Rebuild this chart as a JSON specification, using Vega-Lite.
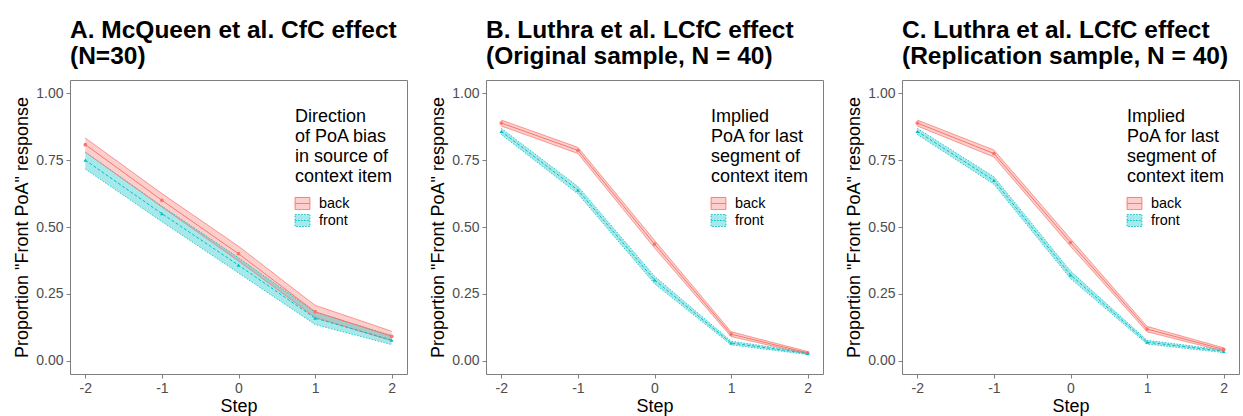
{
  "$schema": "https://vega.github.io/schema/vega-lite/v6.json",
  "padding": {"left": 13, "top": 17, "right": 0, "bottom": 0},
  "spacing": 79,
  "bounds": "flush",
  "resolve": {"scale": {"color": "independent"}, "legend": {"color": "independent"}},
  "config": {
    "font": "Liberation Sans",
    "view": {"stroke": "#7f7f7f", "strokeWidth": 1},
    "axis": {"grid": false, "domain": false, "tickColor": "#7f7f7f", "tickSize": 4, "labelColor": "#4d4d4d", "labelFontSize": 14, "titleFontSize": 18, "titleFontWeight": "normal", "titleColor": "#000000", "labelPadding": 3},
    "title": {"anchor": "start", "frame": "group", "fontSize": 24.5, "fontWeight": "bold", "lineHeight": 26, "offset": 11, "color": "#000000"}
  },
  "datasets": {
    "A": [
      {"step": -2, "series": "back", "mean": 0.808, "lo": 0.780, "hi": 0.833},
      {"step": -1, "series": "back", "mean": 0.600, "lo": 0.575, "hi": 0.625},
      {"step": 0, "series": "back", "mean": 0.400, "lo": 0.373, "hi": 0.428},
      {"step": 1, "series": "back", "mean": 0.183, "lo": 0.162, "hi": 0.207},
      {"step": 2, "series": "back", "mean": 0.091, "lo": 0.074, "hi": 0.110},
      {"step": -2, "series": "front", "mean": 0.750, "lo": 0.717, "hi": 0.780},
      {"step": -1, "series": "front", "mean": 0.550, "lo": 0.520, "hi": 0.578},
      {"step": 0, "series": "front", "mean": 0.357, "lo": 0.328, "hi": 0.385},
      {"step": 1, "series": "front", "mean": 0.159, "lo": 0.135, "hi": 0.182},
      {"step": 2, "series": "front", "mean": 0.077, "lo": 0.060, "hi": 0.094}
    ],
    "B": [
      {"step": -2, "series": "back", "mean": 0.889, "lo": 0.878, "hi": 0.900},
      {"step": -1, "series": "back", "mean": 0.787, "lo": 0.775, "hi": 0.798},
      {"step": 0, "series": "back", "mean": 0.436, "lo": 0.422, "hi": 0.450},
      {"step": 1, "series": "back", "mean": 0.099, "lo": 0.090, "hi": 0.108},
      {"step": 2, "series": "back", "mean": 0.029, "lo": 0.025, "hi": 0.034},
      {"step": -2, "series": "front", "mean": 0.858, "lo": 0.846, "hi": 0.869},
      {"step": -1, "series": "front", "mean": 0.638, "lo": 0.624, "hi": 0.652},
      {"step": 0, "series": "front", "mean": 0.302, "lo": 0.288, "hi": 0.316},
      {"step": 1, "series": "front", "mean": 0.066, "lo": 0.059, "hi": 0.073},
      {"step": 2, "series": "front", "mean": 0.027, "lo": 0.023, "hi": 0.031}
    ],
    "C": [
      {"step": -2, "series": "back", "mean": 0.889, "lo": 0.878, "hi": 0.900},
      {"step": -1, "series": "back", "mean": 0.775, "lo": 0.762, "hi": 0.788},
      {"step": 0, "series": "back", "mean": 0.442, "lo": 0.428, "hi": 0.456},
      {"step": 1, "series": "back", "mean": 0.118, "lo": 0.108, "hi": 0.128},
      {"step": 2, "series": "back", "mean": 0.042, "lo": 0.036, "hi": 0.048},
      {"step": -2, "series": "front", "mean": 0.858, "lo": 0.846, "hi": 0.869},
      {"step": -1, "series": "front", "mean": 0.674, "lo": 0.660, "hi": 0.688},
      {"step": 0, "series": "front", "mean": 0.321, "lo": 0.307, "hi": 0.335},
      {"step": 1, "series": "front", "mean": 0.069, "lo": 0.062, "hi": 0.076},
      {"step": 2, "series": "front", "mean": 0.035, "lo": 0.030, "hi": 0.040}
    ]
  },
  "hconcat": [
    {
      "width": 337, "height": 294,
      "title": {"text": ["A. McQueen et al. CfC effect", "(N=30)"]},
      "data": {"name": "A"},
      "encoding": {"x": {"field": "step", "type": "quantitative", "scale": {"domain": [-2.2, 2.2], "nice": false, "zero": false}, "axis": {"values": [-2, -1, 0, 1, 2], "labelExpr": "'' + datum.value", "title": "Step", "titlePadding": 2}}},
      "layer": [
        {"mark": {"type": "area", "fillOpacity": 0.35}, "encoding": {
          "y": {"field": "lo", "type": "quantitative", "scale": {"domain": [-0.05, 1.05], "nice": false, "zero": false}, "axis": {"values": [0, 0.25, 0.5, 0.75, 1], "format": ".2f", "title": "Proportion \"Front PoA\" response", "titlePadding": 4}},
          "y2": {"field": "hi"},
          "color": {"field": "series", "type": "nominal", "scale": {"domain": ["back", "front"], "range": ["#F8766D", "#00BFC4"]},
            "legend": {"orient": "none", "legendX": 225, "legendY": 28, "title": ["Direction", "of PoA bias", "in source of", "context item"], "titleFontSize": 18, "titleFontWeight": "normal", "titleLineHeight": 20, "titleColor": "#000000", "labelFontSize": 14.4, "labelColor": "#000000", "symbolType": "M-1.1,-0.9H1.1V0.9H-1.1Z M-1.1,0H1.1", "symbolSize": 180, "rowPadding": 0, "labelOffset": 9, "titlePadding": 10,
              "encode": {"symbols": {"update": {"fill": {"signal": "datum.value === 'back' ? '#F8766D' : '#00BFC4'"}, "fillOpacity": {"value": 0.35}, "stroke": {"signal": "datum.value === 'back' ? '#F8766D' : '#00BFC4'"}, "strokeWidth": {"value": 1}, "strokeDash": {"signal": "datum.value === 'back' ? [1,0] : [1.5,1.5]"}, "opacity": {"value": 1}}}}}}
        }},
        {"mark": {"type": "line", "strokeWidth": 0.8}, "encoding": {
          "y": {"field": "hi", "type": "quantitative", "title": "Proportion \"Front PoA\" response"},
          "color": {"field": "series", "type": "nominal", "legend": null},
          "strokeDash": {"field": "series", "type": "nominal", "scale": {"domain": ["back", "front"], "range": [[1, 0], [1.5, 1.5]]}, "legend": null}
        }},
        {"mark": {"type": "line", "strokeWidth": 0.8}, "encoding": {
          "y": {"field": "lo", "type": "quantitative", "title": "Proportion \"Front PoA\" response"},
          "color": {"field": "series", "type": "nominal", "legend": null},
          "strokeDash": {"field": "series", "type": "nominal", "legend": null}
        }},
        {"transform": [{"filter": "datum.series === 'back'"}], "mark": {"type": "line", "strokeWidth": 1, "color": "#F8766D"}, "encoding": {
          "y": {"field": "mean", "type": "quantitative", "title": "Proportion \"Front PoA\" response"}
        }},
        {"transform": [{"filter": "datum.series === 'front'"}], "mark": {"type": "line", "strokeWidth": 1, "color": "#00BFC4", "strokeDash": [3, 2]}, "encoding": {
          "y": {"field": "mean", "type": "quantitative", "title": "Proportion \"Front PoA\" response"}
        }},
        {"mark": {"type": "point", "filled": true, "size": 14, "opacity": 1}, "encoding": {
          "y": {"field": "mean", "type": "quantitative", "title": "Proportion \"Front PoA\" response"},
          "color": {"field": "series", "type": "nominal", "legend": null},
          "shape": {"field": "series", "type": "nominal", "scale": {"domain": ["back", "front"], "range": ["circle", "triangle-up"]}, "legend": null}
        }}
      ]
    },
    {
      "width": 337, "height": 294,
      "title": {"text": ["B. Luthra et al. LCfC effect", "(Original sample, N = 40)"]},
      "data": {"name": "B"},
      "encoding": {"x": {"field": "step", "type": "quantitative", "scale": {"domain": [-2.2, 2.2], "nice": false, "zero": false}, "axis": {"values": [-2, -1, 0, 1, 2], "labelExpr": "'' + datum.value", "title": "Step", "titlePadding": 2}}},
      "layer": [
        {"mark": {"type": "area", "fillOpacity": 0.35}, "encoding": {
          "y": {"field": "lo", "type": "quantitative", "scale": {"domain": [-0.05, 1.05], "nice": false, "zero": false}, "axis": {"values": [0, 0.25, 0.5, 0.75, 1], "format": ".2f", "title": "Proportion \"Front PoA\" response", "titlePadding": 4}},
          "y2": {"field": "hi"},
          "color": {"field": "series", "type": "nominal", "scale": {"domain": ["back", "front"], "range": ["#F8766D", "#00BFC4"]},
            "legend": {"orient": "none", "legendX": 225, "legendY": 28, "title": ["Implied", "PoA for last", "segment of", "context item"], "titleFontSize": 18, "titleFontWeight": "normal", "titleLineHeight": 20, "titleColor": "#000000", "labelFontSize": 14.4, "labelColor": "#000000", "symbolType": "M-1.1,-0.9H1.1V0.9H-1.1Z M-1.1,0H1.1", "symbolSize": 180, "rowPadding": 0, "labelOffset": 9, "titlePadding": 10,
              "encode": {"symbols": {"update": {"fill": {"signal": "datum.value === 'back' ? '#F8766D' : '#00BFC4'"}, "fillOpacity": {"value": 0.35}, "stroke": {"signal": "datum.value === 'back' ? '#F8766D' : '#00BFC4'"}, "strokeWidth": {"value": 1}, "strokeDash": {"signal": "datum.value === 'back' ? [1,0] : [1.5,1.5]"}, "opacity": {"value": 1}}}}}}
        }},
        {"mark": {"type": "line", "strokeWidth": 0.8}, "encoding": {
          "y": {"field": "hi", "type": "quantitative", "title": "Proportion \"Front PoA\" response"},
          "color": {"field": "series", "type": "nominal", "legend": null},
          "strokeDash": {"field": "series", "type": "nominal", "scale": {"domain": ["back", "front"], "range": [[1, 0], [1.5, 1.5]]}, "legend": null}
        }},
        {"mark": {"type": "line", "strokeWidth": 0.8}, "encoding": {
          "y": {"field": "lo", "type": "quantitative", "title": "Proportion \"Front PoA\" response"},
          "color": {"field": "series", "type": "nominal", "legend": null},
          "strokeDash": {"field": "series", "type": "nominal", "legend": null}
        }},
        {"transform": [{"filter": "datum.series === 'back'"}], "mark": {"type": "line", "strokeWidth": 1, "color": "#F8766D"}, "encoding": {
          "y": {"field": "mean", "type": "quantitative", "title": "Proportion \"Front PoA\" response"}
        }},
        {"transform": [{"filter": "datum.series === 'front'"}], "mark": {"type": "line", "strokeWidth": 1, "color": "#00BFC4", "strokeDash": [3, 2]}, "encoding": {
          "y": {"field": "mean", "type": "quantitative", "title": "Proportion \"Front PoA\" response"}
        }},
        {"mark": {"type": "point", "filled": true, "size": 14, "opacity": 1}, "encoding": {
          "y": {"field": "mean", "type": "quantitative", "title": "Proportion \"Front PoA\" response"},
          "color": {"field": "series", "type": "nominal", "legend": null},
          "shape": {"field": "series", "type": "nominal", "scale": {"domain": ["back", "front"], "range": ["circle", "triangle-up"]}, "legend": null}
        }}
      ]
    },
    {
      "width": 337, "height": 294,
      "title": {"text": ["C. Luthra et al. LCfC effect", "(Replication sample, N = 40)"]},
      "data": {"name": "C"},
      "encoding": {"x": {"field": "step", "type": "quantitative", "scale": {"domain": [-2.2, 2.2], "nice": false, "zero": false}, "axis": {"values": [-2, -1, 0, 1, 2], "labelExpr": "'' + datum.value", "title": "Step", "titlePadding": 2}}},
      "layer": [
        {"mark": {"type": "area", "fillOpacity": 0.35}, "encoding": {
          "y": {"field": "lo", "type": "quantitative", "scale": {"domain": [-0.05, 1.05], "nice": false, "zero": false}, "axis": {"values": [0, 0.25, 0.5, 0.75, 1], "format": ".2f", "title": "Proportion \"Front PoA\" response", "titlePadding": 4}},
          "y2": {"field": "hi"},
          "color": {"field": "series", "type": "nominal", "scale": {"domain": ["back", "front"], "range": ["#F8766D", "#00BFC4"]},
            "legend": {"orient": "none", "legendX": 225, "legendY": 28, "title": ["Implied", "PoA for last", "segment of", "context item"], "titleFontSize": 18, "titleFontWeight": "normal", "titleLineHeight": 20, "titleColor": "#000000", "labelFontSize": 14.4, "labelColor": "#000000", "symbolType": "M-1.1,-0.9H1.1V0.9H-1.1Z M-1.1,0H1.1", "symbolSize": 180, "rowPadding": 0, "labelOffset": 9, "titlePadding": 10,
              "encode": {"symbols": {"update": {"fill": {"signal": "datum.value === 'back' ? '#F8766D' : '#00BFC4'"}, "fillOpacity": {"value": 0.35}, "stroke": {"signal": "datum.value === 'back' ? '#F8766D' : '#00BFC4'"}, "strokeWidth": {"value": 1}, "strokeDash": {"signal": "datum.value === 'back' ? [1,0] : [1.5,1.5]"}, "opacity": {"value": 1}}}}}}
        }},
        {"mark": {"type": "line", "strokeWidth": 0.8}, "encoding": {
          "y": {"field": "hi", "type": "quantitative", "title": "Proportion \"Front PoA\" response"},
          "color": {"field": "series", "type": "nominal", "legend": null},
          "strokeDash": {"field": "series", "type": "nominal", "scale": {"domain": ["back", "front"], "range": [[1, 0], [1.5, 1.5]]}, "legend": null}
        }},
        {"mark": {"type": "line", "strokeWidth": 0.8}, "encoding": {
          "y": {"field": "lo", "type": "quantitative", "title": "Proportion \"Front PoA\" response"},
          "color": {"field": "series", "type": "nominal", "legend": null},
          "strokeDash": {"field": "series", "type": "nominal", "legend": null}
        }},
        {"transform": [{"filter": "datum.series === 'back'"}], "mark": {"type": "line", "strokeWidth": 1, "color": "#F8766D"}, "encoding": {
          "y": {"field": "mean", "type": "quantitative", "title": "Proportion \"Front PoA\" response"}
        }},
        {"transform": [{"filter": "datum.series === 'front'"}], "mark": {"type": "line", "strokeWidth": 1, "color": "#00BFC4", "strokeDash": [3, 2]}, "encoding": {
          "y": {"field": "mean", "type": "quantitative", "title": "Proportion \"Front PoA\" response"}
        }},
        {"mark": {"type": "point", "filled": true, "size": 14, "opacity": 1}, "encoding": {
          "y": {"field": "mean", "type": "quantitative", "title": "Proportion \"Front PoA\" response"},
          "color": {"field": "series", "type": "nominal", "legend": null},
          "shape": {"field": "series", "type": "nominal", "scale": {"domain": ["back", "front"], "range": ["circle", "triangle-up"]}, "legend": null}
        }}
      ]
    }
  ]
}
